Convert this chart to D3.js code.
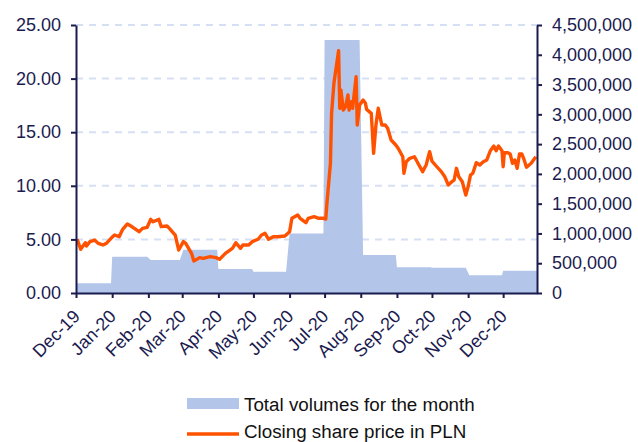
<!DOCTYPE html>
<html>
<head>
<meta charset="utf-8">
<script src="https://cdn.jsdelivr.net/npm/d3@7"></script>
<style>
  body { margin: 0; background: #fff; }
  svg { display: block; font-family: "Liberation Sans", Arial, sans-serif; }
</style>
</head>
<body>
<svg id="chart" width="638" height="442"></svg>
<script>
// monthly traded volume (right axis)
const volMonths = ["2019-12","2020-01","2020-02","2020-03","2020-04","2020-05","2020-06",
                   "2020-07","2020-08","2020-09","2020-10","2020-11","2020-12"]
const volValues = [165000, 608000, 556000, 728000, 405000, 355000, 1000000,
                   4250000, 640000, 432000, 425000, 297000, 374000]

// closing share price in PLN (left axis)
const priceDates = [
  "2019-12-02","2019-12-05","2019-12-09","2019-12-10","2019-12-13","2019-12-17","2019-12-20","2019-12-24","2019-12-27","2019-12-31",
  "2020-01-03","2020-01-07","2020-01-10","2020-01-14","2020-01-17","2020-01-20","2020-01-24","2020-01-27","2020-01-31",
  "2020-02-03","2020-02-05","2020-02-10","2020-02-12","2020-02-17","2020-02-19","2020-02-24","2020-02-27",
  "2020-03-02","2020-03-04","2020-03-09","2020-03-11","2020-03-16","2020-03-19","2020-03-25","2020-03-30",
  "2020-04-02","2020-04-07","2020-04-13","2020-04-16","2020-04-20","2020-04-22","2020-04-27","2020-04-30",
  "2020-05-05","2020-05-08","2020-05-11","2020-05-14","2020-05-18","2020-05-22","2020-05-28",
  "2020-06-01","2020-06-03","2020-06-08","2020-06-10","2020-06-15","2020-06-17","2020-06-22","2020-06-26","2020-06-30",
  "2020-07-02","2020-07-03","2020-07-06","2020-07-07","2020-07-09","2020-07-13","2020-07-14","2020-07-15","2020-07-17",
  "2020-07-19","2020-07-21","2020-07-22","2020-07-24","2020-07-25","2020-07-28","2020-07-29","2020-07-31",
  "2020-08-03","2020-08-05","2020-08-06","2020-08-10","2020-08-12","2020-08-14","2020-08-16","2020-08-19","2020-08-22",
  "2020-08-24","2020-08-27","2020-08-31",
  "2020-09-02","2020-09-06","2020-09-07","2020-09-09","2020-09-12","2020-09-16","2020-09-19","2020-09-23","2020-09-26","2020-09-29",
  "2020-10-01","2020-10-05","2020-10-09","2020-10-12","2020-10-15","2020-10-18","2020-10-20","2020-10-22","2020-10-24","2020-10-27","2020-10-30",
  "2020-11-01","2020-11-03","2020-11-05","2020-11-08","2020-11-11","2020-11-14","2020-11-17","2020-11-20","2020-11-23","2020-11-25","2020-11-27","2020-11-30",
  "2020-12-01","2020-12-02","2020-12-05","2020-12-07","2020-12-09","2020-12-11","2020-12-13","2020-12-15","2020-12-17","2020-12-19","2020-12-21","2020-12-25","2020-12-29"
]
const priceValues = [
  5.01,4.08,4.69,4.38,4.79,4.94,4.63,4.48,4.63,5.10,
  5.41,5.25,5.94,6.44,6.25,6.03,5.72,6.03,6.13,
  6.87,6.65,6.87,6.19,6.25,6.03,5.41,4.01,
  4.79,4.63,3.70,2.99,3.30,3.23,3.39,3.30,
  3.14,3.70,4.17,4.69,4.17,4.48,4.48,4.79,
  5.01,5.41,5.57,5.01,5.25,5.25,5.32,
  5.72,6.97,7.28,6.97,6.56,6.97,7.12,6.97,6.97,
  6.90,8.37,12.10,16.76,19.56,22.60,17.23,18.94,17.07,
  17.38,18.47,17.07,17.85,17.23,20.18,15.67,17.54,
  18.00,17.70,17.13,16.76,13.03,15.67,17.23,15.67,15.67,
  15.36,14.27,13.81,
  13.50,12.71,11.17,12.25,12.56,12.71,12.10,11.32,11.94,13.18,
  12.30,11.80,11.32,10.85,10.07,10.38,10.54,11.63,10.85,10.38,9.14,
  9.92,11.00,11.17,12.16,11.94,12.25,12.41,13.27,13.71,13.27,13.71,13.27,
  11.78,13.09,13.09,12.97,12.10,12.41,11.63,12.97,12.97,12.41,11.73,12.10,12.71
]

// axis tick values and labels
const priceTicks = [0, 5, 10, 15, 20, 25]
const volTicks = [0, 500000, 1000000, 1500000, 2000000, 2500000, 3000000, 3500000, 4000000, 4500000]
const monthTicks = ["2019-12-01","2020-01-01","2020-02-01","2020-03-01","2020-04-01","2020-05-01","2020-06-01",
                    "2020-07-01","2020-08-01","2020-09-01","2020-10-01","2020-11-01","2020-12-01"]
const legendLabels = ["Total volumes for the month", "Closing share price in PLN"]

const parse = d3.timeParse("%Y-%m-%d")
const navy = "#1b1b50"

// plot box
const plotLeft = 76, plotRight = 537, plotTop = 25, plotBottom = 293

const svg = d3.select("#chart")

const x = d3.scaleTime()
    .domain([parse("2019-12-01"), parse("2020-12-30")])
    .range([plotLeft, plotRight])
const yPrice = d3.scaleLinear().domain([0, 25]).range([plotBottom, plotTop])
const yVol = d3.scaleLinear().domain([0, 4500000]).range([plotBottom, plotTop])

// volume as a stepped area: each month is flat from its first to last trading day
const isWeekday = d => d.getDay() !== 0 && d.getDay() !== 6
const volPoints = []
volMonths.forEach((m, i) => {
    const start = parse(m + "-01")
    const days = d3.timeDay.range(start, d3.timeMonth.offset(start, 1)).filter(isWeekday)
    let first = days[0], last = days[days.length - 1]
    if (i === 0) first = x.domain()[0]
    if (last > x.domain()[1]) last = x.domain()[1]
    volPoints.push({date: first, v: volValues[i]})
    volPoints.push({date: last, v: volValues[i]})
})

// dashed gridlines from the price axis
svg.append("g")
    .selectAll("line")
    .data(priceTicks.filter(t => t > 0))
    .enter()
    .append("line")
        .attr("x1", plotLeft)
        .attr("x2", plotRight)
        .attr("y1", d => yPrice(d))
        .attr("y2", d => yPrice(d))
        .attr("stroke", "#d6e0f4")
        .attr("stroke-width", 2)
        .attr("stroke-dasharray", "7,6")

// volume area
svg.append("path")
    .datum(volPoints)
    .attr("fill", "#b3c6ea")
    .attr("d", d3.area()
        .x(d => x(d.date))
        .y0(plotBottom)
        .y1(d => yVol(d.v)))

// price line
const priceData = priceDates.map((d, i) => ({date: parse(d), p: priceValues[i]}))
svg.append("path")
    .datum(priceData)
    .attr("fill", "none")
    .attr("stroke", "#ff5200")
    .attr("stroke-width", 3.4)
    .attr("stroke-linejoin", "round")
    .attr("d", d3.line()
        .x(d => x(d.date))
        .y(d => yPrice(d.p)))

// axes
const styleAxis = g => {
    g.select(".domain").attr("stroke", navy).attr("stroke-width", 2)
    g.selectAll(".tick line").attr("stroke", navy).attr("stroke-width", 2)
    g.selectAll("text").attr("fill", navy).style("font-size", "18px")
        .style("font-family", "'Liberation Sans', Arial, sans-serif")
}

svg.append("g")
    .attr("transform", `translate(${plotLeft},0)`)
    .call(d3.axisLeft(yPrice).tickValues(priceTicks).tickFormat(d3.format(".2f"))
        .tickSize(5).tickPadding(10).tickSizeOuter(0))
    .call(styleAxis)

svg.append("g")
    .attr("transform", `translate(${plotRight},0)`)
    .call(d3.axisRight(yVol).tickValues(volTicks).tickFormat(d3.format(","))
        .tickSize(5).tickPadding(10).tickSizeOuter(0))
    .call(styleAxis)

const xAxis = svg.append("g")
    .attr("transform", `translate(0,${plotBottom})`)
    .call(d3.axisBottom(x).tickValues(monthTicks.map(parse)).tickFormat(d3.timeFormat("%b-%y"))
        .tickSize(5).tickSizeOuter(0))
    .call(styleAxis)

// rotated month labels, centred under each tick
xAxis.selectAll(".tick text")
    .attr("text-anchor", "end")
    .attr("y", 0)
    .attr("dy", "0.35em")
    .attr("transform", "translate(0,20) rotate(-45)")

// legend
const legend = svg.append("g")
legend.append("rect")
    .attr("x", 187).attr("y", 398).attr("width", 52).attr("height", 11)
    .attr("fill", "#b3c6ea")
legend.append("line")
    .attr("x1", 187).attr("x2", 239).attr("y1", 434).attr("y2", 434)
    .attr("stroke", "#ff5200").attr("stroke-width", 3.5)
legend.selectAll("text")
    .data(legendLabels)
    .enter()
    .append("text")
        .attr("x", 244)
        .attr("y", (d, i) => 411 + i * 27)
        .attr("fill", "#111")
        .style("font-size", "18.8px")
        .text(d => d)
</script>
</body>
</html>
